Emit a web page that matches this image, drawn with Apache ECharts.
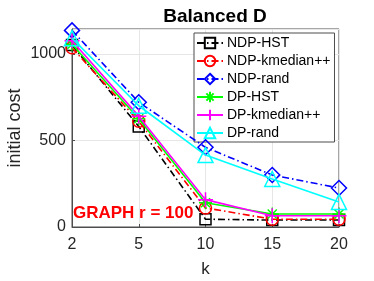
<!DOCTYPE html>
<html><head><meta charset="utf-8">
<script src="https://cdn.jsdelivr.net/npm/echarts@6/dist/echarts.min.js"></script>
<style>html,body{margin:0;padding:0;background:#fff}#c{width:374px;height:281px}</style>
</head><body><div id="c"></div>
<script>
const categories = ['2', '5', '10', '15', '20'];
const seriesNames = ['NDP-HST', 'NDP-kmedian++', 'NDP-rand', 'DP-HST', 'DP-kmedian++', 'DP-rand'];
const ndpHST = [1050, 580, 45, 40, 40];
const ndpKmedian = [1035, 610, 110, 45, 45];
const ndpRand = [1135, 720, 460, 300, 225];
const dpHST = [1055, 625, 140, 75, 75];
const dpKmedian = [1075, 640, 158, 65, 65];
const dpRand = [1090, 700, 415, 277, 145];
const yTicks = [0, 500, 1000];

const dashDot = [7, 3, 1.5, 3];
const starPath = 'path://M0,-10L0,10M-10,0L10,0M-7,-7L7,7M-7,7L7,-7';
const plusPath = 'path://M0,-10L0,10M-10,0L10,0';
const styles = [
  {c:'#000000', sym:'rect', size:11, dash:dashDot},
  {c:'#ff0000', sym:'circle', size:12, dash:dashDot},
  {c:'#0000ff', sym:'diamond', size:15, dash:dashDot},
  {c:'#00ff00', sym:starPath, size:13, dash:'solid'},
  {c:'#ff00ff', sym:plusPath, size:15, dash:'solid'},
  {c:'#00ffff', sym:'triangle', size:15, dash:'solid'}
];
const allData = [ndpHST, ndpKmedian, ndpRand, dpHST, dpKmedian, dpRand];

const series = seriesNames.map((n, i) => ({
  name: n, type: 'line', data: allData[i],
  symbol: styles[i].sym, symbolSize: styles[i].size, symbolKeepAspect: true,
  showAllSymbol: true,
  lineStyle: {color: styles[i].c, width: 1.6, type: styles[i].dash},
  itemStyle: {color: 'rgba(0,0,0,0)', borderColor: styles[i].c, borderWidth: 1.5},
  emphasis: {disabled: true}, animation: false, z: 2 + i
}));

const FF = '"Liberation Sans", Arial, sans-serif';
const chart = echarts.init(document.getElementById('c'), null, {renderer: 'canvas'});
chart.setOption({
  animation: false,
  backgroundColor: '#ffffff',
  title: {text: 'Balanced D', left: 210, textAlign: 'center', top: 2,
    textStyle: {fontFamily: FF, fontWeight: 'bold', fontSize: 19, color: '#000'}},
  grid: {left: 72, right: 35, top: 29, bottom: 54, show: true, borderColor: '#4d4d4d', borderWidth: 1,
    backgroundColor: 'rgba(0,0,0,0)', containLabel: false, outerBoundsMode: 'none'},
  xAxis: {type: 'category', data: categories, boundaryGap: false,
    name: 'k', nameLocation: 'middle', nameGap: 34,
    nameTextStyle: {fontFamily: FF, fontSize: 17, color: '#262626'},
    axisLine: {lineStyle: {color: '#4d4d4d'}},
    axisTick: {inside: true, length: 3, lineStyle: {color: '#4d4d4d'}},
    axisLabel: {fontFamily: FF, fontSize: 16, color: '#262626', margin: 10},
    splitLine: {show: true, lineStyle: {color: '#e6e6e6', width: 1}}},
  yAxis: {type: 'value', min: 0, max: 1143, interval: 500,
    name: 'initial cost', nameLocation: 'middle', nameGap: 48, nameMoveOverlap: false,
    nameTextStyle: {fontFamily: FF, fontSize: 18, color: '#262626'},
    axisLine: {show: true, lineStyle: {color: '#4d4d4d'}},
    axisTick: {show: true, inside: true, length: 3, lineStyle: {color: '#4d4d4d'}},
    axisLabel: {fontFamily: FF, fontSize: 16, color: '#262626', margin: 6,
      formatter: v => yTicks.includes(v) ? String(v) : '', showMaxLabel: false},
    splitLine: {show: true, lineStyle: {color: '#e6e6e6', width: 1}}},
  legend: {orient: 'vertical', left: 194, top: 33, width: 140, itemWidth: 26, itemHeight: 13, itemGap: 4,
    padding: [3, 4, 2, 2], backgroundColor: '#ffffff', borderColor: '#4d4d4d', borderWidth: 1,
    textStyle: {fontFamily: FF, fontSize: 14, color: '#000', padding: [0, 0, 0, -1]},
    data: seriesNames},
  graphic: [{type: 'text', left: 73, top: 205, z: 100,
    style: {text: 'GRAPH r = 100', fill: '#ff0000', font: 'bold 17px "Liberation Sans", Arial'}}],
  series: series
});
</script></body></html>
